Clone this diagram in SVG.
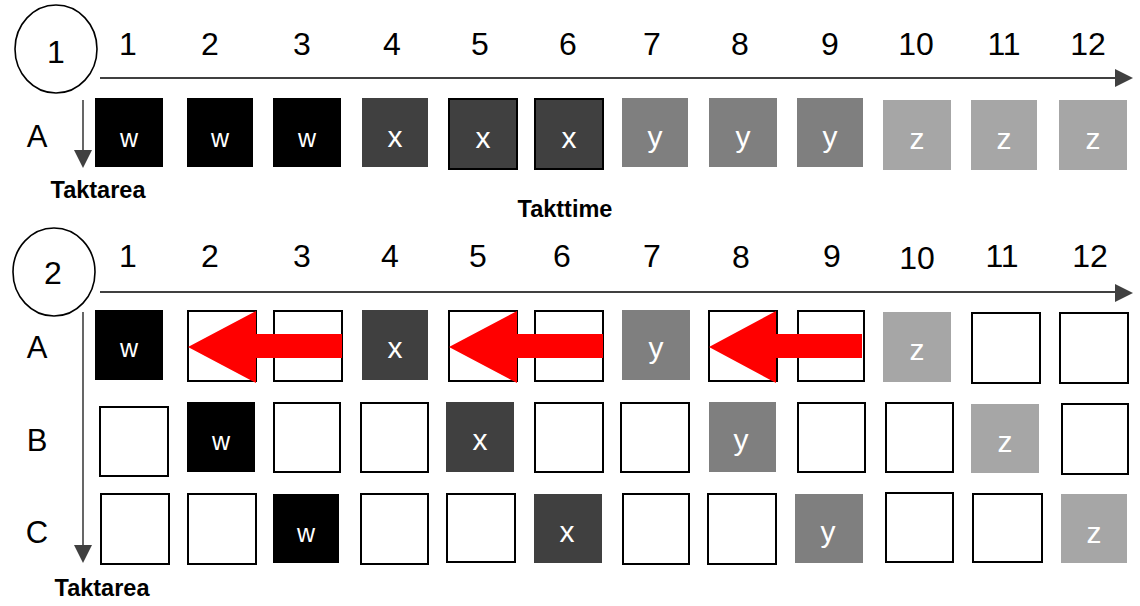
<svg xmlns="http://www.w3.org/2000/svg" width="1140" height="606" viewBox="0 0 1140 606">
<style>
.w{fill:#000}
.x{fill:#404040}
.y{fill:#7f7f7f}
.z{fill:#a6a6a6}
.e{fill:#fff;stroke:#000;stroke-width:2}
.sk{stroke:#000;stroke-width:2}
.lt{font-family:"Liberation Sans",Arial,sans-serif;fill:#fff;text-anchor:middle}
.lw{font-size:25px}
.lx{font-size:30px}
.num{font-family:"Liberation Sans",Arial,sans-serif;font-size:32px;fill:#000;text-anchor:middle}
.row{font-family:"Liberation Sans",Arial,sans-serif;font-size:31px;fill:#000;text-anchor:middle}
.bold{font-family:"Liberation Sans",Arial,sans-serif;font-size:23.5px;font-weight:bold;fill:#000;text-anchor:middle}
.ax{stroke:#404040;stroke-width:2.2;fill:none}
.axv{stroke:#404040;stroke-width:1.6;fill:none}
.hd{fill:#404040}
.red{fill:#ff0000}
.circ{fill:#fff;stroke:#000;stroke-width:1.6}
</style>

<!-- Section 1 -->
<g id="label1">
  <ellipse class="circ" cx="56" cy="49" rx="41" ry="44"/>
  <text class="num" x="56" y="63">1</text>
</g>
<g id="cols1">
  <text class="num" x="128" y="55">1</text>
  <text class="num" x="210" y="55">2</text>
  <text class="num" x="302" y="55">3</text>
  <text class="num" x="392" y="55">4</text>
  <text class="num" x="480" y="55">5</text>
  <text class="num" x="568" y="55">6</text>
  <text class="num" x="652" y="55">7</text>
  <text class="num" x="740" y="55">8</text>
  <text class="num" x="830" y="55">9</text>
  <text class="num" x="916" y="55">10</text>
  <text class="num" x="1004" y="55">11</text>
  <text class="num" x="1088" y="55">12</text>
</g>
<g id="rowA1"><text class="row" x="37" y="147">A</text></g>
<g id="taktarea1"><text class="bold" x="98" y="198">Taktarea</text></g>
<g id="takttime"><text class="bold" x="565" y="217">Takttime</text></g>

<g id="r1">
  <g id="r1c1"><rect class="w" x="95" y="98" width="68" height="69"/><text class="lt lw" x="129" y="147">w</text></g>
  <g id="r1c2"><rect class="w" x="187" y="98" width="66" height="69"/><text class="lt lw" x="220" y="147">w</text></g>
  <g id="r1c3"><rect class="w" x="273" y="98" width="68" height="69"/><text class="lt lw" x="307" y="147">w</text></g>
  <g id="r1c4"><rect class="x" x="362" y="98" width="66" height="69"/><text class="lt lx" x="395" y="147">x</text></g>
  <g id="r1c5"><rect class="x sk" x="449" y="99" width="68" height="70"/><text class="lt lx" x="483" y="148">x</text></g>
  <g id="r1c6"><rect class="x sk" x="535" y="99" width="68" height="70"/><text class="lt lx" x="569" y="148">x</text></g>
  <g id="r1c7"><rect class="y" x="622" y="98" width="66" height="69"/><text class="lt lx" x="655" y="147">y</text></g>
  <g id="r1c8"><rect class="y" x="709" y="98" width="68" height="69"/><text class="lt lx" x="743" y="147">y</text></g>
  <g id="r1c9"><rect class="y" x="797" y="98" width="66" height="69"/><text class="lt lx" x="830" y="147">y</text></g>
  <g id="r1c10"><rect class="z" x="883" y="100" width="68" height="70"/><text class="lt lx" x="917" y="149">z</text></g>
  <g id="r1c11"><rect class="z" x="971" y="100" width="66" height="70"/><text class="lt lx" x="1004" y="149">z</text></g>
  <g id="r1c12"><rect class="z" x="1059" y="100" width="68" height="70"/><text class="lt lx" x="1093" y="149">z</text></g>
</g>

<!-- Section 2 -->
<g id="label2">
  <ellipse class="circ" cx="54" cy="272" rx="41" ry="44"/>
  <text class="num" x="53" y="284">2</text>
</g>
<g id="cols2">
  <text class="num" x="128" y="267">1</text>
  <text class="num" x="210" y="267">2</text>
  <text class="num" x="302" y="267">3</text>
  <text class="num" x="390" y="267">4</text>
  <text class="num" x="478" y="267">5</text>
  <text class="num" x="562" y="267">6</text>
  <text class="num" x="652" y="267">7</text>
  <text class="num" x="741" y="268">8</text>
  <text class="num" x="832" y="267">9</text>
  <text class="num" x="917" y="269">10</text>
  <text class="num" x="1002" y="267">11</text>
  <text class="num" x="1090" y="267">12</text>
</g>
<g id="rowlabels2">
  <text class="row" x="37" y="358">A</text>
  <text class="row" x="37" y="451">B</text>
  <text class="row" x="37" y="543">C</text>
</g>
<g id="taktarea2"><text class="bold" x="102" y="596">Taktarea</text></g>

<g id="r2A">
  <g id="aC1"><rect class="w" x="95" y="310" width="68" height="70"/><text class="lt lw" x="129" y="357">w</text></g>
  <g id="aC2"><rect class="e" x="188" y="311" width="68" height="70"/></g>
  <g id="aC3"><rect class="e" x="274" y="311" width="68" height="70"/></g>
  <g id="aC4"><rect class="x" x="362" y="310" width="66" height="70"/><text class="lt lx" x="395" y="358">x</text></g>
  <g id="aC5"><rect class="e" x="449" y="311" width="68" height="70"/></g>
  <g id="aC6"><rect class="e" x="535" y="311" width="68" height="70"/></g>
  <g id="aC7"><rect class="y" x="622" y="310" width="68" height="70"/><text class="lt lx" x="656" y="358">y</text></g>
  <g id="aC8"><rect class="e" x="709" y="311" width="68" height="70"/></g>
  <g id="aC9"><rect class="e" x="798" y="311" width="66" height="70"/></g>
  <g id="aC10"><rect class="z" x="883" y="312" width="68" height="70"/><text class="lt lx" x="917" y="360">z</text></g>
  <g id="aC11"><rect class="e" x="972" y="313" width="68" height="70"/></g>
  <g id="aC12"><rect class="e" x="1060" y="313" width="68" height="70"/></g>
</g>

<g id="r2B">
  <g id="bC1"><rect class="e" x="100" y="407" width="68" height="69"/></g>
  <g id="bC2"><rect class="w" x="187" y="402" width="68" height="70"/><text class="lt lw" x="221" y="450">w</text></g>
  <g id="bC3"><rect class="e" x="274" y="403" width="66" height="69"/></g>
  <g id="bC4"><rect class="e" x="361" y="403" width="67" height="69"/></g>
  <g id="bC5"><rect class="x" x="446" y="402" width="68" height="70"/><text class="lt lx" x="480" y="450">x</text></g>
  <g id="bC6"><rect class="e" x="535" y="403" width="68" height="69"/></g>
  <g id="bC7"><rect class="e" x="621" y="403" width="68" height="69"/></g>
  <g id="bC8"><rect class="y" x="709" y="402" width="67" height="70"/><text class="lt lx" x="741" y="450">y</text></g>
  <g id="bC9"><rect class="e" x="798" y="403" width="67" height="69"/></g>
  <g id="bC10"><rect class="e" x="886" y="403" width="67" height="69"/></g>
  <g id="bC11"><rect class="z" x="971" y="404" width="68" height="69"/><text class="lt lx" x="1005" y="452">z</text></g>
  <g id="bC12"><rect class="e" x="1062" y="404" width="66" height="70"/></g>
</g>

<g id="r2C">
  <g id="cC1"><rect class="e" x="101" y="494" width="68" height="70"/></g>
  <g id="cC2"><rect class="e" x="188" y="494" width="68" height="70"/></g>
  <g id="cC3"><rect class="w" x="273" y="494" width="66" height="69"/><text class="lt lw" x="306" y="542">w</text></g>
  <g id="cC4"><rect class="e" x="361" y="494" width="67" height="70"/></g>
  <g id="cC5"><rect class="e" x="447" y="494" width="68" height="68"/></g>
  <g id="cC6"><rect class="x" x="534" y="494" width="68" height="69"/><text class="lt lx" x="567" y="542">x</text></g>
  <g id="cC7"><rect class="e" x="623" y="494" width="66" height="70"/></g>
  <g id="cC8"><rect class="e" x="708" y="494" width="68" height="70"/></g>
  <g id="cC9"><rect class="y" x="795" y="494" width="68" height="69"/><text class="lt lx" x="828" y="542">y</text></g>
  <g id="cC10"><rect class="e" x="886" y="493" width="67" height="69"/></g>
  <g id="cC11"><rect class="e" x="973" y="494" width="69" height="68"/></g>
  <g id="cC12"><rect class="z" x="1061" y="494" width="66" height="69"/><text class="lt lx" x="1094" y="543">z</text></g>
</g>

<g id="connectors">
  <line class="ax" x1="100" y1="78" x2="1116" y2="78"/>
  <polygon class="hd" points="1115,69 1133,78 1115,87"/>
  <line class="axv" x1="83" y1="100" x2="83" y2="151"/>
  <polygon class="hd" points="74,150 92,150 83,168"/>

  <line class="ax" x1="100" y1="292" x2="1116" y2="292"/>
  <polygon class="hd" points="1115,284 1133,293 1115,302"/>
  <line class="axv" x1="83" y1="312" x2="83" y2="546"/>
  <polygon class="hd" points="74,545 92,545 83,563"/>

  <polygon class="red" points="188,347 256,311 256,334 342,334 342,358 256,358 256,383"/>
  <polygon class="red" points="449,347 517,311 517,334 603,334 603,358 517,358 517,383"/>
  <polygon class="red" points="709,347 776,311 776,334 862,334 862,358 776,358 776,383"/>
</g>
</svg>
